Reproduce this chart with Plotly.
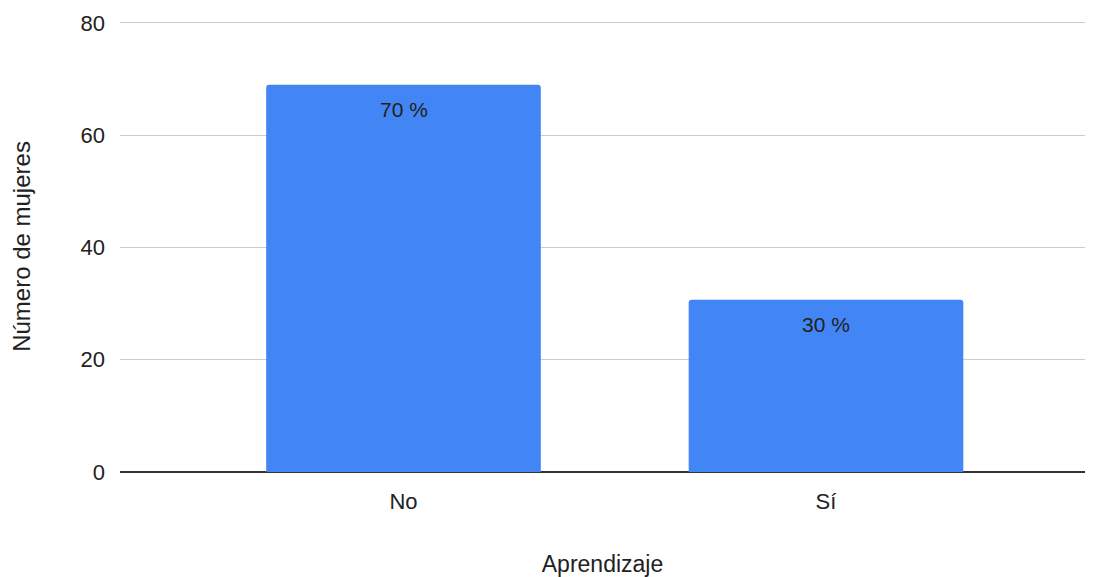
import plotly.graph_objects as go

categories = ["No", "Sí"]
values = [69, 30.7]
labels = ["70 %", "30 %"]
y_ticks = [0, 20, 40, 60, 80]

FONT = "Liberation Sans, Arial"

fig = go.Figure()
fig.add_trace(go.Bar(
    x=categories, y=values, marker_color="#4285F4", width=0.65,
    marker_line_width=0,
))
for c, v, t in zip(categories, values, labels):
    fig.add_annotation(x=c, y=v, text=t, showarrow=False, yshift=-25,
                       font=dict(family=FONT, size=21, color="#222222"))

fig.update_layout(
    width=1099, height=577,
    margin=dict(l=112, r=22, t=13, b=113, autoexpand=False),
    plot_bgcolor="white", paper_bgcolor="white",
    showlegend=False,
    barcornerradius=3,
    font=dict(family=FONT, size=22, color="#222222"),
    xaxis=dict(
        range=[-0.671, 1.613], showgrid=False, ticks="", automargin=False,
        ticklabelstandoff=14,
        title=dict(text="Aprendizaje", standoff=42, font=dict(size=23)),
        tickfont=dict(size=22),
    ),
    yaxis=dict(
        range=[0, 80.35], tickvals=y_ticks, gridcolor="#cccccc", gridwidth=1,
        zeroline=True, zerolinecolor="#333333", zerolinewidth=1.5,
        ticks="", ticklabelstandoff=14, automargin=False,
        title=dict(text="Número de mujeres", standoff=52, font=dict(size=24)),
        tickfont=dict(size=22),
    ),
)
fig.write_html("out.html")
